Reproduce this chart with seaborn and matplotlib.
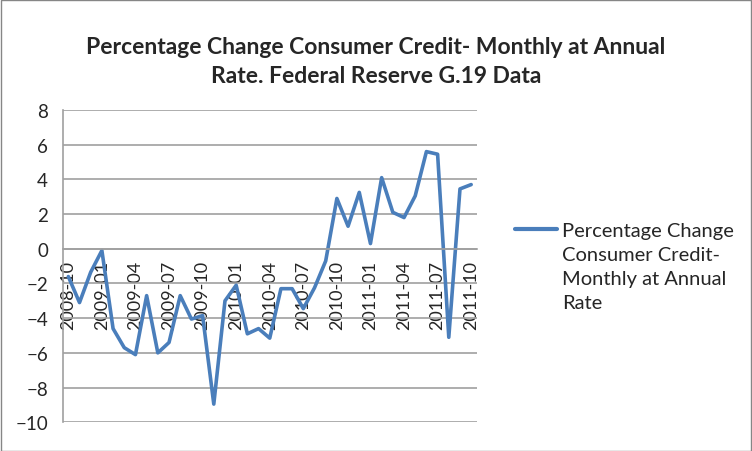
import matplotlib
matplotlib.use("Agg")
import matplotlib.pyplot as plt
import seaborn as sns
import pandas as pd

months = pd.period_range("2008-10", "2011-10", freq="M").strftime("%Y-%m").tolist()
values = [-1.6, -3.1, -1.35, -0.1, -4.6, -5.7, -6.1, -2.7, -6.0, -5.4,
          -2.7, -4.05, -3.85, -8.95, -3.0, -2.1, -4.9, -4.6, -5.15, -2.3,
          -2.3, -3.45, -2.25, -0.7, 2.9, 1.3, 3.25, 0.3, 4.1, 2.1,
          1.8, 3.05, 5.6, 5.45, -5.1, 3.45, 3.7]
series_name = "Percentage Change\nConsumer Credit-\nMonthly at Annual\nRate"
title = "Percentage Change Consumer Credit- Monthly at Annual\nRate. Federal Reserve G.19 Data"

df = pd.DataFrame({"pos": range(len(months)), "value": values, "series": series_name})

sns.set_style("white")
plt.rcParams["font.family"] = ["Lato", "DejaVu Sans"]

fig = plt.figure(figsize=(7.52, 4.52), dpi=100)
ax = fig.add_axes([0.0834, 0.0635, 0.5506, 0.691])

sns.lineplot(data=df, x="pos", y="value", hue="series", palette=["#4A7EBB"],
             linewidth=2.6, ax=ax)

grid = "#A0A0A0"
# spine position first: it resets the tick objects
ax.spines["bottom"].set_position(("data", 0))
for side in ["top", "right"]:
    ax.spines[side].set_visible(False)
for side in ["left", "bottom"]:
    ax.spines[side].set_color(grid)
    ax.spines[side].set_linewidth(1.2)

ax.set_xlim(-0.5, len(months) - 0.5)
ax.set_ylim(-10, 8)
ax.set_yticks(range(-10, 9, 2))
ax.yaxis.grid(True, color=grid, linewidth=1.2)
ax.set_axisbelow(True)

tick_pos = list(range(0, len(months), 3))
ax.set_xticks(tick_pos)
ax.set_xticklabels([months[i] for i in tick_pos], rotation=90, fontsize=13)
ax.set_xticks([i - 0.5 for i in range(len(months) + 1)], minor=True)
ax.tick_params(axis="x", which="major", length=0, pad=8)
ax.tick_params(axis="x", which="minor", length=3.6, color=grid, width=1.2, direction="out")
ax.tick_params(axis="y", length=3.6, color=grid, width=1.2, labelsize=13.5, pad=7)

ax.set_xlabel("")
ax.set_ylabel("")

fig.suptitle(title, x=0.5, y=0.918, fontsize=16.5, fontweight="bold", linespacing=1.45)

leg = ax.legend(loc="upper left", bbox_to_anchor=(1.048, 0.7), frameon=False,
                fontsize=14.5, handlelength=2.1, handletextpad=0.25, labelspacing=0)
leg.get_lines()[0].set_linewidth(3)
leg.get_texts()[0].set_linespacing(1.5)
for col in leg._legend_handle_box.get_children():
    for item in col.get_children():
        item.align = "top"

border = plt.Rectangle((0.001, 0.001), 0.998, 0.997, transform=fig.transFigure,
                       fill=False, edgecolor="#868686", linewidth=1)
fig.patches.append(border)

fig.savefig("out.png", dpi=100)
